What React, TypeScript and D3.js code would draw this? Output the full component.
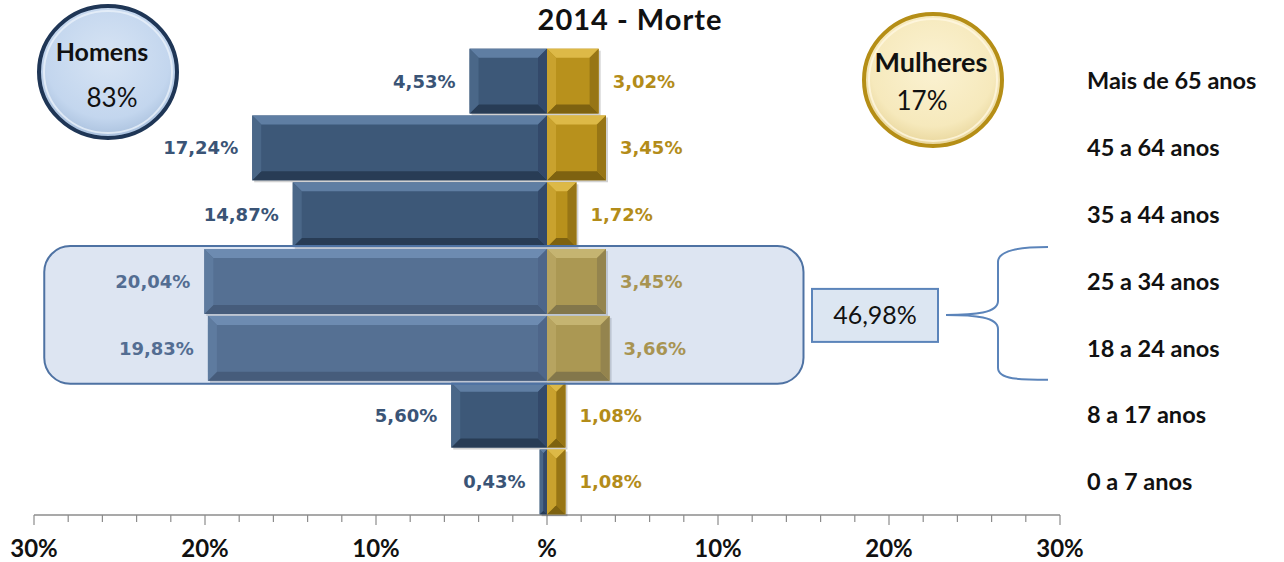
import React from "react";
import * as d3 from "d3";

const categories = [
  "Mais de 65 anos",
  "45 a 64 anos",
  "35 a 44 anos",
  "25 a 34 anos",
  "18 a 24 anos",
  "8 a 17 anos",
  "0 a 7 anos",
];
const menValues = [4.53, 17.24, 14.87, 20.04, 19.83, 5.6, 0.43];
const womenValues = [3.02, 3.45, 1.72, 3.45, 3.66, 1.08, 1.08];
const highlighted = ["25 a 34 anos", "18 a 24 anos"];
const tickValues = [-30, -20, -10, 0, 10, 20, 30];
const minorTicks = d3.range(-30, 30.01, 2);
const title = "2014 - Morte";

const W = 1284;
const H = 562;

const fmt = (v: number) => v.toFixed(2).replace(".", ",") + "%";

type Pal = { base: string; top: string; bottom: string; left: string; right: string };
const menPal: Pal = { base: "#3D5878", top: "#5F7EA3", bottom: "#283C55", left: "#4A6788", right: "#33496A" };
const womenPal: Pal = { base: "#B8911C", top: "#DDB947", bottom: "#7E6210", left: "#C9A22E", right: "#977515" };

function BevelBar({ x0, x1, y0, y1, pal }: { x0: number; x1: number; y0: number; y1: number; pal: Pal }) {
  const w = x1 - x0;
  const h = y1 - y0;
  const b = Math.min(9, w / 2, h / 2);
  const p = (pts: number[][]) => pts.map((q) => q.join(",")).join(" ");
  return (
    <g>
      <rect x={x0 + 2} y={y0 + 2} width={w} height={h} fill="#000" opacity={0.18} />
      <rect x={x0} y={y0} width={w} height={h} fill={pal.base} />
      <polygon points={p([[x0, y0], [x1, y0], [x1 - b, y0 + b], [x0 + b, y0 + b]])} fill={pal.top} />
      <polygon points={p([[x0, y1], [x1, y1], [x1 - b, y1 - b], [x0 + b, y1 - b]])} fill={pal.bottom} />
      <polygon points={p([[x0, y0], [x0 + b, y0 + b], [x0 + b, y1 - b], [x0, y1]])} fill={pal.left} />
      <polygon points={p([[x1, y0], [x1 - b, y0 + b], [x1 - b, y1 - b], [x1, y1]])} fill={pal.right} />
    </g>
  );
}

export default function App() {
  const x = d3.scaleLinear().domain([-30, 30]).range([34, 1060]);
  const y = d3.scaleBand<string>().domain(categories).range([48, 515]).paddingInner(0.03).paddingOuter(0.01);
  const bw = y.bandwidth();
  const axisY = 515;

  const menTotal = d3.sum(menValues);
  const womenTotal = d3.sum(womenValues);
  const hiIdx = highlighted.map((c) => categories.indexOf(c));
  const hiTotal = d3.sum(hiIdx, (i) => menValues[i] + womenValues[i]);

  const hiTop = (y(highlighted[0]) as number) - 3;
  const hiBot = (y(highlighted[highlighted.length - 1]) as number) + bw + 3;
  const hiMid = (hiTop + hiBot) / 2;

  const labelFont = "'DejaVu Sans', Verdana, sans-serif";
  const calibri = "Lato, 'Open Sans', sans-serif";

  return (
    <svg width={W} height={H} style={{ position: "absolute", left: 0, top: 0, background: "#fff" }}>
      <defs>
        <radialGradient id="gMen" cx="50%" cy="40%" r="60%">
          <stop offset="0%" stopColor="#D7E4F4" />
          <stop offset="75%" stopColor="#C3D6EE" />
          <stop offset="100%" stopColor="#A9C0DD" />
        </radialGradient>
        <radialGradient id="gWomen" cx="50%" cy="40%" r="60%">
          <stop offset="0%" stopColor="#FBF2D2" />
          <stop offset="75%" stopColor="#F6E9BC" />
          <stop offset="100%" stopColor="#E8D59A" />
        </radialGradient>
      </defs>

      {/* Title */}
      <text x={630} y={30} textAnchor="middle" fontFamily={calibri} fontWeight="bold" fontSize={29} letterSpacing={1} fill="#111">
        {title}
      </text>

      {/* Men circle */}
      <g>
        <ellipse cx={108} cy={72} rx={69} ry={66} fill="url(#gMen)" stroke="#1F3656" strokeWidth={4} />
        <ellipse cx={108} cy={72} rx={64} ry={61} fill="none" stroke="#EAF1FA" strokeWidth={2} opacity={0.8} />
        <text x={102} y={61} textAnchor="middle" fontFamily={calibri} fontWeight="bold" fontSize={25} fill="#111">
          Homens
        </text>
        <text x={112} y={107} textAnchor="middle" fontFamily={calibri} fontSize={26} fill="#111">
          {Math.round(menTotal)}%
        </text>
      </g>

      {/* Women circle */}
      <g>
        <ellipse cx={933} cy={80} rx={69} ry={66} fill="url(#gWomen)" stroke="#B58E16" strokeWidth={4} />
        <ellipse cx={933} cy={80} rx={64} ry={61} fill="none" stroke="#FFF8E2" strokeWidth={2} opacity={0.8} />
        <text x={931} y={72} textAnchor="middle" fontFamily={calibri} fontWeight="bold" fontSize={27} fill="#111">
          Mulheres
        </text>
        <text x={922} y={110} textAnchor="middle" fontFamily={calibri} fontSize={26} fill="#111">
          {Math.round(womenTotal)}%
        </text>
      </g>

      {/* Axis */}
      <g>
        <line x1={x(-30)} x2={x(30)} y1={axisY} y2={axisY} stroke="#8C8C8C" strokeWidth={1.5} />
        {minorTicks.map((t) => (
          <line key={t} x1={x(t)} x2={x(t)} y1={axisY} y2={axisY + (t % 10 === 0 ? 10 : 7)} stroke="#8C8C8C" strokeWidth={1.2} />
        ))}
        {tickValues.map((t) => (
          <text key={t} x={x(t)} y={557} textAnchor="middle" fontFamily={calibri} fontWeight="bold" fontSize={24} fill="#111">
            {t === 0 ? "%" : Math.abs(t) + "%"}
          </text>
        ))}
      </g>

      {/* Bars */}
      {categories.map((c, i) => {
        const y0 = y(c) as number;
        return (
          <g key={c}>
            <BevelBar x0={x(-menValues[i])} x1={x(0)} y0={y0} y1={y0 + bw} pal={menPal} />
          </g>
        );
      })}
      {categories.map((c, i) => {
        const y0 = y(c) as number;
        return (
          <g key={c}>
            <BevelBar x0={x(0)} x1={x(womenValues[i])} y0={y0} y1={y0 + bw} pal={womenPal} />
          </g>
        );
      })}

      {/* Value labels */}
      {categories.map((c, i) => {
        const cy = (y(c) as number) + bw / 2;
        return (
          <g key={c} fontFamily={labelFont} fontWeight="bold" fontSize={18}>
            <text x={x(-menValues[i]) - 14} y={cy} dy="0.36em" textAnchor="end" fill="#3A5476">
              {fmt(menValues[i])}
            </text>
            <text x={x(womenValues[i]) + 14} y={cy} dy="0.36em" textAnchor="start" fill="#B38C19">
              {fmt(womenValues[i])}
            </text>
          </g>
        );
      })}

      {/* Category labels */}
      {categories.map((c) => (
        <text key={c} x={1087} y={(y(c) as number) + bw / 2} dy="0.35em" fontFamily={calibri} fontWeight="bold" fontSize={23.5} fill="#111">
          {c}
        </text>
      ))}

      {/* Highlight overlay */}
      <rect
        x={x(-29.4)}
        y={hiTop}
        width={x(15) - x(-29.4)}
        height={hiBot - hiTop}
        rx={26}
        fill="#8DAAD3"
        fillOpacity={0.3}
        stroke="#4E72A3"
        strokeWidth={2}
      />

      {/* Sum box */}
      <rect x={812} y={hiMid - 26} width={126} height={53} fill="#DCE6F2" stroke="#5B84BA" strokeWidth={2} />
      <text x={875} y={hiMid} dy="0.36em" textAnchor="middle" fontFamily={calibri} fontSize={25} fill="#111">
        {hiTotal.toFixed(2).replace(".", ",")}%
      </text>

      {/* Brace */}
      <path
        d={`M946,${hiMid} C975,${hiMid} 998,${hiMid - 2} 998,${hiMid - 14} L998,${hiTop + 16} C998,${hiTop + 4} 1020,${hiTop + 1} 1048,${hiTop + 1}
            M946,${hiMid} C975,${hiMid} 998,${hiMid + 2} 998,${hiMid + 14} L998,${hiBot - 16} C998,${hiBot - 4} 1020,${hiBot - 4} 1048,${hiBot - 4}`}
        fill="none"
        stroke="#5B84BA"
        strokeWidth={2}
      />
    </svg>
  );
}
